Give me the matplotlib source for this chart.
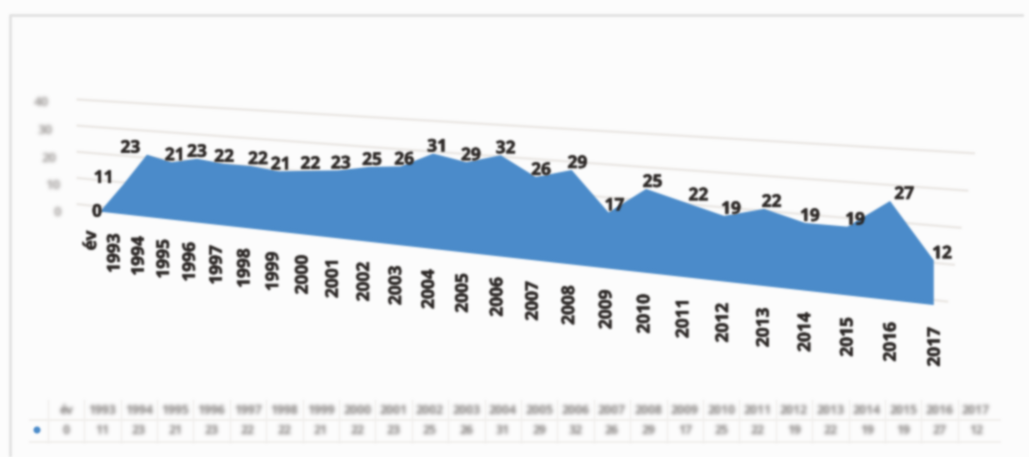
import matplotlib
matplotlib.use("Agg")
import matplotlib.patheffects as pe
import matplotlib.pyplot as plt
import numpy as np
from matplotlib.patches import Circle

categories = ["év", "1993", "1994", "1995", "1996", "1997", "1998", "1999", "2000",
              "2001", "2002", "2003", "2004", "2005", "2006", "2007", "2008", "2009",
              "2010", "2011", "2012", "2013", "2014", "2015", "2016", "2017"]
values = [0, 11, 23, 21, 23, 22, 22, 21, 22, 23, 25, 26, 31, 29, 32, 26, 29, 17,
          25, 22, 19, 22, 19, 19, 27, 12]
axis_ticks = [0, 10, 20, 30, 40]

FONT = "Open Sans"
TEXT_DARK = "#2a2624"
BLUE = "#4a8bca"


def make_blur(radius):
    # soft focus of the scanned original, applied to each artist
    kernel = np.exp(-0.5 * (np.arange(-5, 6) / radius) ** 2)
    kernel = kernel / kernel.sum()

    def run(channel, axis):
        out = np.zeros_like(channel)
        for offset, weight in zip(range(-5, 6), kernel):
            out += weight * np.roll(channel, offset, axis=axis)
        return out

    def blur(image, dpi):
        pad = 7
        img = np.pad(image, ((pad, pad), (pad, pad), (0, 0)))
        alpha = img[:, :, 3].copy()
        rgb = img[:, :, :3] * alpha[:, :, None]
        rgb = run(run(rgb, 0), 1)
        alpha = run(run(alpha, 0), 1)
        safe = np.maximum(alpha, 1e-4)[:, :, None]
        out = np.dstack([np.clip(rgb / safe, 0, 1), alpha])
        return out, -pad, -pad

    return blur


# the chart is a tilted 3D view, so category and value go through a projection
def project_x(i):
    return 100 + 22.6 * i + 0.43 * i ** 2


def project_y(i, v):
    x = project_x(i)
    base = 212 + (x - 103) * 0.112
    return base - v * (2.7 + 0.0013 * (x - 142))


def tick_x(i):
    return 91 + 23.0 * i + 0.43 * i ** 2


def label_x(i):
    return 97 + 23.3 * i + 0.42 * i ** 2


def draw_frame(ax, soft):
    ax.plot([10, 10, 1022], [457, 15, 15], color="#e2e2e2", linewidth=2.0, agg_filter=soft)


def draw_chart(ax, soft, softer):
    heavy = [pe.withStroke(linewidth=0.4, foreground=TEXT_DARK)]

    for tick in axis_ticks:
        ends = np.array([-1, 25.3 + 0.015 * tick])
        ax.plot(project_x(ends), project_y(ends, tick) - 5, color="#ecE9e6", linewidth=1.8,
                agg_filter=soft, zorder=1)
        ax.text(57 - 0.4 * tick, 213 - 2.75 * tick, str(tick), fontsize=9.5, family=FONT,
                fontweight="bold", color="#a09c9a", ha="center", va="center",
                agg_filter=softer)

    idx = np.arange(len(values))
    vals = np.array(values)
    xs = np.concatenate([project_x(idx), project_x(idx[::-1])])
    ys = np.concatenate([project_y(idx, vals), project_y(idx[::-1], 0 * vals)])
    ax.fill(xs, ys, color=BLUE, linewidth=0, agg_filter=soft, zorder=3)

    nudges = {0: (0, 7), 1: (-17, 0), 2: (-15, 0), 3: (4, 0), 6: (6, 0),
              19: (7, 0), 22: (-3, 0), 24: (6, 0)}
    for i, (cat, val) in enumerate(zip(categories, values)):
        dx, dy = nudges.get(i, (0, 0))
        ax.text(label_x(i) + dx, project_y(i, val) - 7 + dy, str(val), fontsize=12.5,
                family=FONT, fontweight="bold", color=TEXT_DARK, ha="center", va="center",
                agg_filter=soft, path_effects=heavy, zorder=4)
        ax.text(tick_x(i), project_y(i, 0) + 19 + 0.12 * i, cat, fontsize=12.5, rotation=90,
                family=FONT, fontweight="bold", color=TEXT_DARK, ha="center", va="top",
                agg_filter=soft, path_effects=heavy, zorder=4)


def draw_table(ax, soft, softer):
    left, right = 30, 1000
    top, mid, bottom = 400, 420, 442
    for y in (mid, bottom):
        ax.plot([left, right], [y, y], color="#f0eeec", linewidth=1.2, agg_filter=soft)
    for i, (cat, val) in enumerate(zip(categories, values)):
        x = 66 + 36.4 * i
        ax.plot([x - 18.2, x - 18.2], [top, bottom], color="#f0eeec", linewidth=1.0,
                agg_filter=soft)
        ax.text(x, 410, cat, fontsize=8.8, family=FONT, fontweight="bold", color="#807c7a",
                ha="center", va="center", agg_filter=softer)
        ax.text(x, 430, str(val), fontsize=8.8, family=FONT, fontweight="bold", color="#807c7a",
                ha="center", va="center", agg_filter=softer)
    ax.add_patch(Circle((37, 430), 3.5, facecolor=BLUE, edgecolor="none", agg_filter=soft))


def main():
    fig = plt.figure(figsize=(10.29, 4.57), dpi=100, facecolor="#fcfcfc")
    ax = fig.add_axes([0, 0, 1, 1])
    ax.set_xlim(0, 1029)
    ax.set_ylim(457, 0)
    ax.axis("off")

    soft = make_blur(1.0)
    softer = make_blur(1.9)

    draw_frame(ax, soft)
    draw_chart(ax, soft, softer)
    draw_table(ax, soft, softer)

    fig.savefig("out.png", dpi=100, facecolor=fig.get_facecolor())
    plt.close(fig)


if __name__ == "__main__":
    main()
